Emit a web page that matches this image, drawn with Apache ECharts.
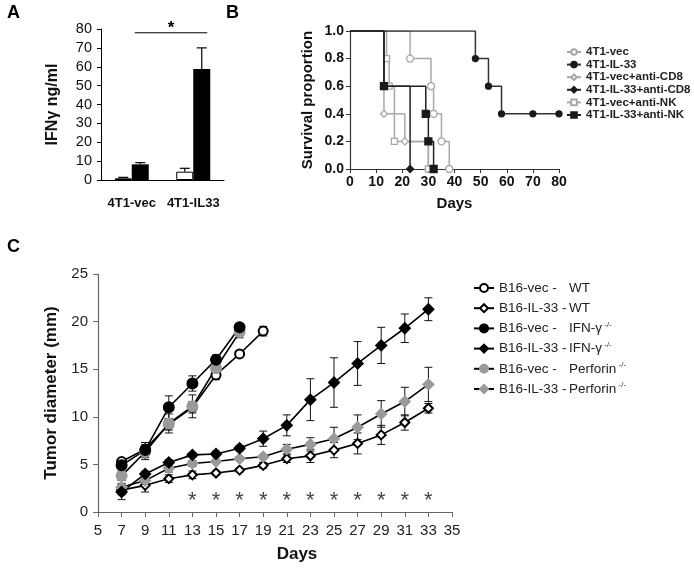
<!DOCTYPE html>
<html><head><meta charset="utf-8">
<script src="https://cdn.jsdelivr.net/npm/echarts@6/dist/echarts.min.js"></script>
<style>html,body{margin:0;padding:0;background:#fff}#c{width:694px;height:571px}</style>
</head><body><div id="c"></div>
<script>
const FONT = 'Arial, "Liberation Sans", sans-serif';

// ---------- Panel A data ----------
const aCategories = ['4T1-vec', '4T1-IL33'];
const aWhite = [0.9, 4.4];
const aWhiteErr = [0.5, 1.8];
const aBlack = [8.3, 58.8];
const aBlackErr = [0.9, 11.2];
const aSigLevel = 78;

// ---------- Panel B data (Kaplan-Meier steps) ----------
const bNames = ['4T1-vec', '4T1-IL-33', '4T1-vec+anti-CD8', '4T1-IL-33+anti-CD8', '4T1-vec+anti-NK', '4T1-IL-33+anti-NK'];
const bVecDays = [0, 23, 31, 32, 35, 38];
const bVecSurv = [1, 0.8, 0.6, 0.4, 0.2, 0];
const bIL33Days = [0, 48, 53, 58, 70, 80];
const bIL33Surv = [1, 0.8, 0.6, 0.4, 0.4, 0.4];
const bVecCD8Days = [0, 13, 21, 30];
const bVecCD8Surv = [1, 0.4, 0.2, 0];
const bIL33CD8Days = [0, 13, 23];
const bIL33CD8Surv = [1, 0.6, 0];
const bVecNKDays = [0, 14, 15, 17, 30];
const bVecNKSurv = [1, 0.8, 0.6, 0.2, 0];
const bIL33NKDays = [0, 13, 29, 30, 32];
const bIL33NKSurv = [1, 0.6, 0.4, 0.2, 0];

// ---------- Panel C data ----------
const cDaysVecWT = [7, 9, 11, 13, 15, 17, 19];
const cDaysVec = [7, 9, 11, 13, 15, 17];
const cDaysIL33 = [7, 9, 11, 13, 15, 17, 19, 21, 23, 25, 27, 29, 31, 33];
const cVecWT = [5.3, 6.6, 9.2, 11.0, 14.4, 16.6, 19.0];
const cVecWTErr = [0.3, 0.7, 0.6, 0.6, 0.5, 0.3, 0.5];
const cIL33WT = [2.3, 2.8, 3.5, 3.9, 4.1, 4.4, 4.9, 5.6, 5.9, 6.5, 7.2, 8.1, 9.4, 10.9];
const cIL33WTErr = [0.5, 0.7, 0.4, 0.4, 0.2, 0.2, 0.3, 0.4, 0.7, 0.8, 1.1, 1.0, 0.8, 0.5];
const cVecIFN = [4.9, 6.5, 11.0, 13.5, 16.0, 19.4];
const cVecIFNErr = [0.4, 0.8, 1.2, 0.8, 0.5, 0.3];
const cIL33IFN = [2.1, 4.0, 5.2, 6.0, 6.1, 6.7, 7.7, 9.1, 11.8, 13.6, 15.6, 17.5, 19.3, 21.3];
const cIL33IFNErr = [0.8, 0.3, 0.3, 0.2, 0.3, 0.3, 0.8, 1.1, 2.2, 2.6, 2.3, 1.9, 1.5, 1.2];
const cVecPerf = [3.8, 6.3, 9.3, 11.1, 15.1, 18.9];
const cVecPerfErr = [0.5, 0.8, 1.0, 1.2, 0.8, 0.6];
const cIL33Perf = [2.6, 3.3, 4.6, 5.1, 5.3, 5.6, 5.8, 6.6, 7.1, 7.7, 8.9, 10.3, 11.6, 13.4];
const cIL33PerfErr = [0.4, 0.4, 0.4, 0.3, 0.2, 0.2, 0.2, 0.5, 0.7, 1.2, 1.3, 1.4, 1.5, 1.8];
const cStarDays = [13, 15, 17, 19, 21, 23, 25, 27, 29, 31, 33];
const cStarLevel = 1.8;
const cGroups = ['B16-vec -', 'B16-IL-33 -', 'B16-vec -', 'B16-IL-33 -', 'B16-vec -', 'B16-IL-33 -'];
const cGenos = ['WT', 'WT', 'IFN-γ', 'IFN-γ', 'Perforin', 'Perforin'];
const cSups = ['', '', '-/-', '-/-', '-/-', '-/-'];
const cNames = cGroups.map((g, i) => g + ' ' + cGenos[i]);

const chart = echarts.init(document.getElementById('c'), null, {renderer: 'canvas'});

function pairs(xs, ys) { return xs.map((x, i) => [x, ys[i]]); }

// Panel A error bars (upward only)
function aErrSeries(vals, errs, side) {
  return {
    type: 'custom', xAxisIndex: 0, yAxisIndex: 0, z: 5, silent: true,
    data: vals.map((v, i) => [i, v, errs[i]]),
    encode: {x: 0, y: 1},
    renderItem: (p, api) => {
      const base = api.coord([api.value(0), api.value(1)]);
      const top = api.coord([api.value(0), api.value(1) + api.value(2)]);
      const x = base[0] + side * 8.5;
      return {type: 'group', children: [
        {type: 'line', shape: {x1: x, y1: base[1], x2: x, y2: top[1]}, style: {stroke: '#000', lineWidth: 1.2}},
        {type: 'line', shape: {x1: x - 5, y1: top[1], x2: x + 5, y2: top[1]}, style: {stroke: '#000', lineWidth: 1.2}}
      ]};
    }
  };
}

// Panel B step line
function bLine(name, days, surv, symbol, size, fill, stroke, lineColor, z) {
  return {
    type: 'line', name, xAxisIndex: 1, yAxisIndex: 1, step: 'end', z,
    data: days.map((d, i) => i === 0 ? {value: [d, surv[i]], symbol: 'none'} : [d, surv[i]]),
    symbol, symbolSize: size, showSymbol: true,
    itemStyle: {color: fill, borderColor: stroke, borderWidth: 1.3},
    lineStyle: {color: lineColor, width: 1.5},
    animation: false
  };
}

// Panel C lines and error bars
function cLine(name, days, vals, symbol, size, fill, stroke) {
  return {
    type: 'line', name, xAxisIndex: 2, yAxisIndex: 2, z: 4,
    data: pairs(days, vals), symbol, symbolSize: size,
    itemStyle: {color: fill, borderColor: stroke, borderWidth: 2},
    lineStyle: {color: '#000', width: 1.6},
    animation: false
  };
}
function cErr(days, vals, errs) {
  return {
    type: 'custom', xAxisIndex: 2, yAxisIndex: 2, z: 3, silent: true,
    data: days.map((d, i) => [d, vals[i], errs[i]]),
    encode: {x: 0, y: 1},
    renderItem: (p, api) => {
      const x = api.value(0), y = api.value(1), e = api.value(2);
      const t = api.coord([x, y + e]), b = api.coord([x, y - e]);
      const st = {stroke: '#111', lineWidth: 1};
      return {type: 'group', children: [
        {type: 'line', shape: {x1: t[0], y1: t[1], x2: b[0], y2: b[1]}, style: st},
        {type: 'line', shape: {x1: t[0] - 4, y1: t[1], x2: t[0] + 4, y2: t[1]}, style: st},
        {type: 'line', shape: {x1: b[0] - 4, y1: b[1], x2: b[0] + 4, y2: b[1]}, style: st}
      ]};
    }
  };
}

const GRAY_B = '#a8a8a8';
const DARK_B = '#1a1a1a';
const GRAY_C = '#9a9a9a';

const option = {
  animation: false,
  backgroundColor: '#fff',
  textStyle: {fontFamily: FONT},
  title: [
    {text: 'A', left: 7, top: 4, padding: 0, textStyle: {fontFamily: FONT, fontSize: 18, fontWeight: 'bold', color: '#000'}},
    {text: 'B', left: 226, top: 4, padding: 0, textStyle: {fontFamily: FONT, fontSize: 18, fontWeight: 'bold', color: '#000'}},
    {text: 'C', left: 7, top: 238, padding: 0, textStyle: {fontFamily: FONT, fontSize: 18, fontWeight: 'bold', color: '#000'}}
  ],
  grid: [
    {left: 101, top: 29, width: 123, height: 151},
    {left: 350, top: 31, width: 209, height: 138},
    {left: 98, top: 274, width: 354, height: 238}
  ],
  legend: [
    {
      orient: 'vertical', left: 566, top: 46, padding: 0, itemGap: 0.6,
      itemWidth: 14, itemHeight: 7,
      data: bNames,
      textStyle: {fontFamily: FONT, fontSize: 11.5, fontWeight: 'bold', color: '#222', lineHeight: 12}
    },
    {
      orient: 'vertical', left: 473, top: 280, padding: 0, itemGap: 4.2,
      itemWidth: 20, itemHeight: 10,
      data: cNames,
      formatter: name => {
        const i = cNames.indexOf(name);
        let s = '{a|' + cGroups[i] + '}{b|' + cGenos[i] + '}';
        if (cSups[i]) s += '{s| ' + cSups[i] + '}';
        return s;
      },
      textStyle: {
        fontFamily: FONT, fontSize: 14, color: '#222', lineHeight: 16,
        rich: {
          a: {fontFamily: FONT, fontSize: 13.5, color: '#222', width: 70, lineHeight: 16},
          b: {fontFamily: FONT, fontSize: 13.5, color: '#222', lineHeight: 16},
          s: {fontFamily: FONT, fontSize: 8, color: '#333', lineHeight: 16, verticalAlign: 'top'}
        }
      }
    }
  ],
  xAxis: [
    {
      gridIndex: 0, type: 'category', data: aCategories,
      axisLine: {lineStyle: {color: '#000', width: 1}},
      axisTick: {show: false},
      axisLabel: {interval: 0, fontFamily: FONT, fontSize: 13, fontWeight: 'bold', color: '#111', margin: 17},
      splitLine: {show: false}
    },
    {
      gridIndex: 1, type: 'value', min: 0, max: 80, interval: 10,
      axisLine: {show: true, lineStyle: {color: '#333', width: 1.2}},
      axisTick: {show: true, length: 4, lineStyle: {color: '#333'}},
      axisLabel: {fontFamily: FONT, fontSize: 14, fontWeight: 'bold', color: '#111', margin: 6},
      splitLine: {show: false},
      name: 'Days', nameLocation: 'middle', nameGap: 27,
      nameTextStyle: {fontFamily: FONT, fontSize: 15, fontWeight: 'bold', color: '#111'}
    },
    {
      gridIndex: 2, type: 'value', min: 5, max: 35, interval: 2,
      axisLine: {show: true, lineStyle: {color: '#666', width: 1.2}},
      axisTick: {show: true, length: 5, lineStyle: {color: '#666'}},
      axisLabel: {fontFamily: FONT, fontSize: 15, color: '#222', margin: 11},
      splitLine: {show: false},
      name: 'Days', nameLocation: 'middle', nameGap: 34,
      nameTextStyle: {fontFamily: FONT, fontSize: 17, fontWeight: 'bold', color: '#111', padding: [0, 0, 0, 44]}
    }
  ],
  yAxis: [
    {
      gridIndex: 0, type: 'value', min: 0, max: 80, interval: 10,
      axisLine: {show: true, lineStyle: {color: '#000', width: 1}},
      axisTick: {show: true, length: 4, lineStyle: {color: '#000'}},
      axisLabel: {fontFamily: FONT, fontSize: 14.5, color: '#111', margin: 9},
      splitLine: {show: false},
      name: 'IFNγ ng/ml', nameLocation: 'middle', nameGap: 40, nameRotate: 90,
      nameTextStyle: {fontFamily: FONT, fontSize: 16, fontWeight: 'bold', color: '#111'}
    },
    {
      gridIndex: 1, type: 'value', min: 0, max: 1, interval: 0.2,
      axisLine: {show: true, lineStyle: {color: '#333', width: 1.2}},
      axisTick: {show: true, length: 4, lineStyle: {color: '#333'}},
      axisLabel: {fontFamily: FONT, fontSize: 14, fontWeight: 'bold', color: '#111', margin: 6, formatter: v => v.toFixed(1)},
      splitLine: {show: false},
      name: 'Survival proportion', nameLocation: 'middle', nameGap: 35, nameRotate: 90,
      nameTextStyle: {fontFamily: FONT, fontSize: 15, fontWeight: 'bold', color: '#111'}
    },
    {
      gridIndex: 2, type: 'value', min: 0, max: 25, interval: 5,
      axisLine: {show: true, lineStyle: {color: '#666', width: 1.2}},
      axisTick: {show: true, length: 5, lineStyle: {color: '#666'}},
      axisLabel: {fontFamily: FONT, fontSize: 15, color: '#222', margin: 10},
      splitLine: {show: false},
      name: 'Tumor diameter (mm)', nameLocation: 'middle', nameGap: 38, nameRotate: 90,
      nameTextStyle: {fontFamily: FONT, fontSize: 17, fontWeight: 'bold', color: '#111'}
    }
  ],
  series: [
    // Panel A
    {type: 'bar', xAxisIndex: 0, yAxisIndex: 0, data: aWhite, barWidth: 17, barGap: '0%',
     itemStyle: {color: '#fff', borderColor: '#000', borderWidth: 1}},
    {type: 'bar', xAxisIndex: 0, yAxisIndex: 0, data: aBlack, barWidth: 17, barGap: '0%',
     itemStyle: {color: '#000'}},
    aErrSeries(aWhite, aWhiteErr, -1),
    aErrSeries(aBlack, aBlackErr, 1),
    {
      type: 'custom', xAxisIndex: 0, yAxisIndex: 0, silent: true, z: 6,
      data: [[0, aSigLevel]], encode: {x: 0, y: 1},
      renderItem: (p, api) => {
        const p0 = api.coord([0, api.value(1)]);
        const p1 = api.coord([1, api.value(1)]);
        const x1 = p0[0] + 3, x2 = p1[0] + 14;
        return {type: 'group', children: [
          {type: 'line', shape: {x1, y1: p0[1], x2, y2: p0[1]}, style: {stroke: '#000', lineWidth: 1}},
          {type: 'text', style: {text: '*', x: (x1 + x2) / 2, y: p0[1] + 4, align: 'center', verticalAlign: 'bottom',
            font: 'bold 17px ' + FONT, fill: '#000'}}
        ]};
      }
    },
    // Panel B
    bLine(bNames[0], bVecDays, bVecSurv, 'circle', 7, '#fff', GRAY_B, GRAY_B, 3),
    bLine(bNames[2], bVecCD8Days, bVecCD8Surv, 'diamond', 7, '#fff', GRAY_B, GRAY_B, 3),
    bLine(bNames[4], bVecNKDays, bVecNKSurv, 'rect', 6, '#fff', GRAY_B, GRAY_B, 3),
    bLine(bNames[1], bIL33Days, bIL33Surv, 'circle', 6, DARK_B, DARK_B, '#333', 4),
    bLine(bNames[3], bIL33CD8Days, bIL33CD8Surv, 'diamond', 7, DARK_B, DARK_B, '#222', 4),
    bLine(bNames[5], bIL33NKDays, bIL33NKSurv, 'rect', 7, DARK_B, DARK_B, '#222', 4),
    // Panel C error bars
    cErr(cDaysVecWT, cVecWT, cVecWTErr),
    cErr(cDaysIL33, cIL33WT, cIL33WTErr),
    cErr(cDaysVec, cVecIFN, cVecIFNErr),
    cErr(cDaysIL33, cIL33IFN, cIL33IFNErr),
    cErr(cDaysVec, cVecPerf, cVecPerfErr),
    cErr(cDaysIL33, cIL33Perf, cIL33PerfErr),
    // Panel C lines
    cLine(cNames[0], cDaysVecWT, cVecWT, 'circle', 9, '#fff', '#000'),
    cLine(cNames[1], cDaysIL33, cIL33WT, 'diamond', 9, '#fff', '#000'),
    cLine(cNames[5], cDaysIL33, cIL33Perf, 'diamond', 10, GRAY_C, GRAY_C),
    cLine(cNames[4], cDaysVec, cVecPerf, 'circle', 10, GRAY_C, GRAY_C),
    cLine(cNames[3], cDaysIL33, cIL33IFN, 'diamond', 10, '#000', '#000'),
    cLine(cNames[2], cDaysVec, cVecIFN, 'circle', 10, '#000', '#000'),
    // Panel C asterisks
    {
      type: 'scatter', xAxisIndex: 2, yAxisIndex: 2, silent: true, z: 5,
      data: cStarDays.map(d => [d, cStarLevel]), symbolSize: 1, itemStyle: {color: 'rgba(0,0,0,0)'},
      label: {show: true, formatter: '*', position: 'inside', offset: [0, 6], fontFamily: FONT, fontSize: 22, color: '#111'}
    }
  ]
};
chart.setOption(option);
</script>
</body></html>
